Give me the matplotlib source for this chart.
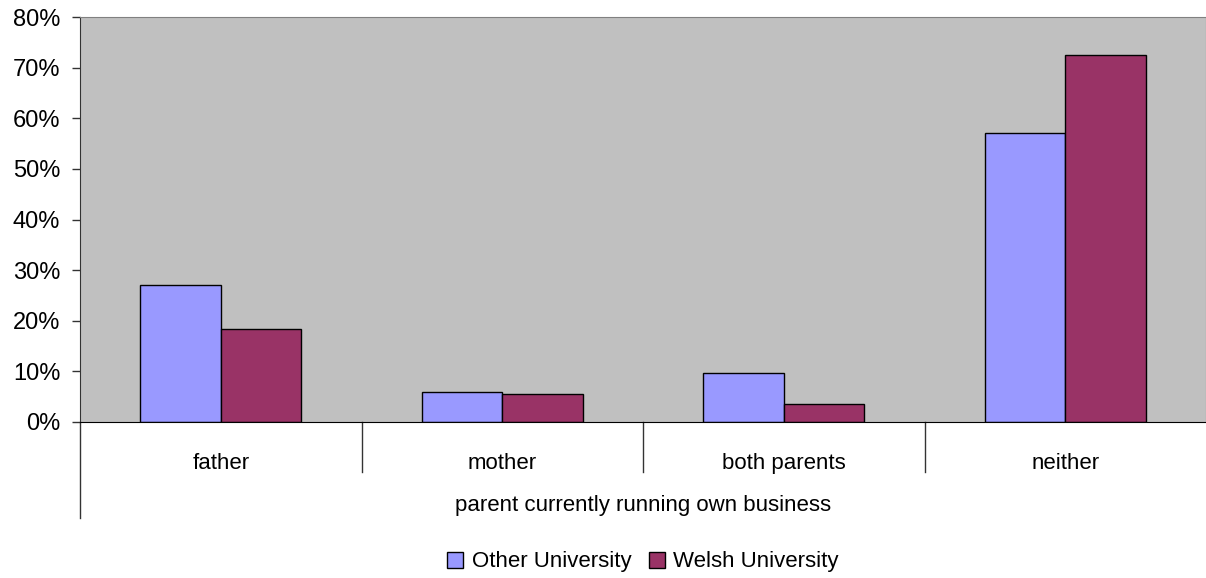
import matplotlib
matplotlib.use("Agg")
import matplotlib.pyplot as plt
import numpy as np
from matplotlib.ticker import PercentFormatter

plt.rcParams['font.family'] = ['Liberation Sans', 'DejaVu Sans']

categories = ['father', 'mother', 'both parents', 'neither']
other_uni = [27.1, 6.0, 9.7, 57.0]
welsh_uni = [18.4, 5.5, 3.6, 72.5]
series_names = ['Other University', 'Welsh University']
colors = ['#9999FF', '#993366']

W, H = 1206, 578
fig = plt.figure(figsize=(W / 100, H / 100), dpi=100)
ax = fig.add_axes([80 / W, (H - 422) / H, 1126 / W, 405 / H])
ax.set_facecolor('#C0C0C0')

x = np.arange(len(categories))
bw = 1 / 3.5
ax.bar(x - bw / 2, other_uni, bw, color=colors[0], edgecolor='black', linewidth=1, label=series_names[0])
ax.bar(x + bw / 2, welsh_uni, bw, color=colors[1], edgecolor='black', linewidth=1, label=series_names[1])

ax.set_xlim(-0.5, len(categories) - 0.5)
ax.set_ylim(0, 80)
ax.set_yticks(range(0, 81, 10))
ax.yaxis.set_major_formatter(PercentFormatter(decimals=0))
ax.tick_params(axis='y', length=5.8, width=1, labelsize=17, pad=8.4, color='#333333')
ax.set_xticks(x)
ax.set_xticklabels(categories)
ax.tick_params(axis='x', length=0, labelsize=16, pad=22)

for s in ['top', 'right']:
    ax.spines[s].set_color('#808080')
ax.spines['left'].set_color('#333333')
ax.spines['bottom'].set_color('black')

# category separators and extended left axis line
tr = ax.get_xaxis_transform()
for b in [0.5, 1.5, 2.5]:
    ax.plot([b, b], [0, -50 / 405], transform=tr, color='#333333', lw=1, clip_on=False)
ax.plot([-0.5, -0.5], [0, -96 / 405], transform=tr, color='#333333', lw=1, clip_on=False)

ax.text(0.5, -83 / 405, 'parent currently running own business', transform=ax.transAxes,
        ha='center', va='center', fontsize=16)

fig.legend(loc='center', bbox_to_anchor=(643 / W, 1 - 562 / H), ncol=2, frameon=False,
           fontsize=16, handlelength=0.7, handleheight=0.7, handletextpad=0.4, columnspacing=0.8)

fig.savefig('out.png', dpi=100)
